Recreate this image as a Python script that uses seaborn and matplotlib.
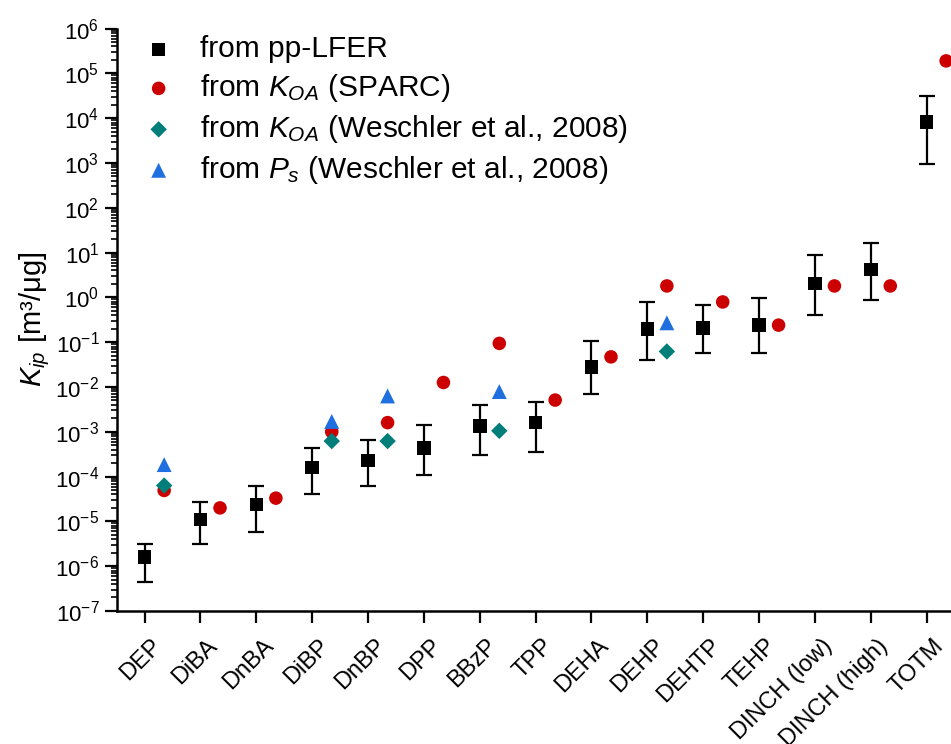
import numpy as np
import pandas as pd
import seaborn as sns
import matplotlib.pyplot as plt
import matplotlib.transforms as mtransforms
from matplotlib.ticker import LogLocator, LogFormatterMathtext, NullFormatter

# compounds on the x axis
compounds = ["DEP", "DiBA", "DnBA", "DiBP", "DnBP", "DPP", "BBzP", "TPP", "DEHA",
             "DEHP", "DEHTP", "TEHP", "DINCH (low)", "DINCH (high)", "TOTM"]

# pp-LFER estimate with lower/upper bounds
lfer = [1.6e-6, 1.1e-5, 2.4e-5, 1.6e-4, 2.3e-4, 4.4e-4, 1.35e-3, 1.6e-3, 2.8e-2,
        0.195, 0.21, 0.24, 2.05, 4.2, 8300]
lfer_lo = [4.5e-7, 3.2e-6, 5.9e-6, 4.1e-5, 6.2e-5, 1.1e-4, 3.0e-4, 3.5e-4, 6.8e-3,
           0.039, 0.056, 0.056, 0.40, 0.87, 960]
lfer_hi = [3.2e-6, 2.7e-5, 6.3e-5, 4.4e-4, 6.6e-4, 1.4e-3, 3.9e-3, 4.7e-3, 0.105,
           0.79, 0.69, 0.98, 8.8, 16, 3.2e4]

# from K_OA (SPARC)
koa_sparc = [4.9e-5, 2.0e-5, 3.3e-5, 1.0e-3, 1.6e-3, 1.26e-2, 0.094, 5.1e-3, 0.047,
             1.8, 0.79, 0.24, 1.8, 1.8, 1.9e5]

# Weschler et al., 2008 (only some compounds)
wes_names = ["DEP", "DiBP", "DnBP", "BBzP", "DEHP"]
koa_wes = [6.3e-5, 6.2e-4, 6.2e-4, 1.05e-3, 0.062]
ps_wes = [1.85e-4, 1.7e-3, 6.3e-3, 7.9e-3, 0.27]

sns.set_style("ticks", rc={"axes.edgecolor": "black", "xtick.color": "black",
                           "ytick.color": "black", "text.color": "black",
                           "axes.labelcolor": "black"})
plt.rcParams['font.family'] = ['Liberation Sans', 'DejaVu Sans']
plt.rcParams['mathtext.fontset'] = 'custom'
plt.rcParams['mathtext.rm'] = 'Liberation Sans'
plt.rcParams['mathtext.it'] = 'Liberation Sans:italic'

pos = {c: i + 1 for i, c in enumerate(compounds)}
off = 0.35

df_lfer = pd.DataFrame({"x": [pos[c] for c in compounds], "y": lfer})
df_sparc = pd.DataFrame({"x": [pos[c] + off for c in compounds], "y": koa_sparc})
df_koa_w = pd.DataFrame({"x": [pos[c] + off for c in wes_names], "y": koa_wes})
df_ps_w = pd.DataFrame({"x": [pos[c] + off for c in wes_names], "y": ps_wes})

fig = plt.figure(figsize=(9.51, 7.44), dpi=100)
ax = fig.add_axes([0.1227, 0.1788, 0.881, 0.7828])

# error bars for pp-LFER
lo = np.array(lfer) - np.array(lfer_lo)
hi = np.array(lfer_hi) - np.array(lfer)
ax.errorbar(df_lfer["x"], df_lfer["y"], yerr=[lo, hi], fmt='none', ecolor='black',
            elinewidth=1.6, capsize=6, capthick=1.6, zorder=2)

sns.scatterplot(data=df_lfer, x="x", y="y", marker="s", color="black", s=95,
                edgecolor="none", label="from pp-LFER", ax=ax, zorder=3)
sns.scatterplot(data=df_sparc, x="x", y="y", marker="o", color="#cc0000", s=95,
                edgecolor="none", label="from $K_{OA}$ (SPARC)", ax=ax, zorder=3)
sns.scatterplot(data=df_koa_w, x="x", y="y", marker="D", color="#007f7a", s=70,
                edgecolor="none", label="from $K_{OA}$ (Weschler et al., 2008)", ax=ax, zorder=3)
sns.scatterplot(data=df_ps_w, x="x", y="y", marker="^", color="#1f6fe0", s=115,
                edgecolor="none", label="from $P_s$ (Weschler et al., 2008)", ax=ax, zorder=3)

ax.set_yscale("log")
ax.set_ylim(1e-7, 1e6)
ax.set_xlim(0.5, 15.5)
ax.yaxis.set_major_locator(LogLocator(base=10, numticks=30))
ax.yaxis.set_major_formatter(LogFormatterMathtext())
ax.yaxis.set_minor_locator(LogLocator(base=10, subs=np.arange(2, 10), numticks=300))
ax.yaxis.set_minor_formatter(NullFormatter())

ax.tick_params(axis="y", which="major", direction="out", length=9, width=1.6, labelsize=16)
ax.tick_params(axis="y", which="minor", direction="out", length=4.5, width=1.2)
ax.tick_params(axis="x", which="major", direction="out", length=8.5, width=1.6)

ax.set_xticks(range(1, len(compounds) + 1))
ax.set_xticklabels(compounds, rotation=45, ha="right", va="top",
                   rotation_mode="anchor", fontsize=17)
# push the rotated labels a little down/right (after tick_params, which resets transforms)
shift = mtransforms.ScaledTranslation(6 / 100, -7 / 100, fig.dpi_scale_trans)
for lab in ax.get_xticklabels():
    lab.set_transform(lab.get_transform() + shift)

sns.despine(ax=ax)
ax.spines["left"].set_linewidth(1.8)
ax.spines["bottom"].set_linewidth(1.8)

ax.set_xlabel("")
ax.set_ylabel("$K_{ip}$ [m³/μg]", fontsize=21, labelpad=2)

ax.legend(loc="upper left", bbox_to_anchor=(0.018, 1.009), frameon=False, fontsize=21.5,
          handlelength=1.0, handletextpad=0.9, labelspacing=0.3, borderaxespad=0)

fig.savefig("out.png", dpi=100)
